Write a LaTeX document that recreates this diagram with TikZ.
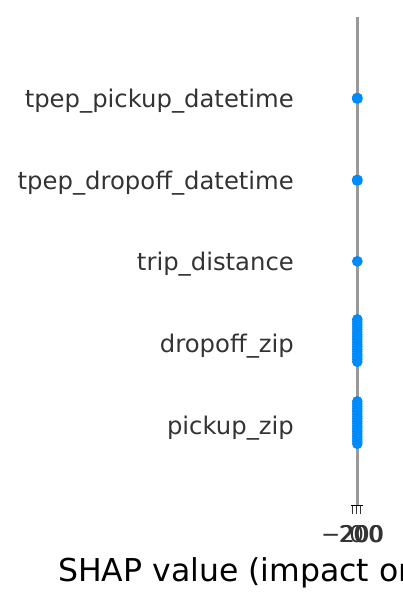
\documentclass[tikz,border=0pt]{standalone}
\usepackage{fontspec}
\setmainfont{DejaVu Sans}
\definecolor{shapblue}{HTML}{008BFB}
\definecolor{axisgray}{HTML}{999999}
\definecolor{txtgray}{HTML}{333333}
\tikzset{
  featlabel/.style={anchor=mid east, inner sep=0pt, text=txtgray, font=\fontsize{24.3}{28}\selectfont},
  ticklabel/.style={anchor=base, inner sep=0pt, text=txtgray, font=\fontsize{23}{27}\selectfont},
  xlab/.style={anchor=base west, inner sep=0pt, text=black, font=\fontsize{31.5}{35}\selectfont},
  dot/.style={fill=shapblue, draw=none},
  zeroline/.style={draw=axisgray, line width=3pt},
  spine/.style={draw=black, line width=1.2pt},
  tickmark/.style={draw=txtgray, line width=0.9pt}
}
\begin{document}
\begin{tikzpicture}[x=1pt,y=-1pt]
\useasboundingbox (0,0) rectangle (403,605);
% zero line
\coordinate (ztop) at (357.3,17);
\coordinate (zbot) at (357.3,505);
\draw[zeroline] (ztop) -- (zbot);
% feature labels
\node[featlabel] (f1) at (294,104.5) {tpep\_pickup\_datetime};
\node[featlabel] (f2) at (294,186.5) {tpep\_dropoff\_datetime};
\node[featlabel] (f3) at (294,268) {trip\_distance};
\node[featlabel] (f4) at (294,350) {dropoff\_zip};
\node[featlabel] (f5) at (294,432) {pickup\_zip};
% dots
\foreach \dx/\dy in {-0.8/-0.8,0.8/-0.8,-0.8/0.8,0.8/0.8}{
  \fill[dot] (357.3+\dx,98.3+\dy) circle (4.6);
  \fill[dot] (357.3+\dx,180.2+\dy) circle (4.6);
}
\fill[dot] (357.3,261.3) circle (5.4);
\foreach \k in {0,...,17}{
  \fill[dot] (357.3,319.3+\k*2.5) circle (5.3);
  \fill[dot] (357.3,401.3+\k*2.5) circle (5.3);
}
% bottom spine and ticks
\coordinate (sl) at (351,505.5);
\coordinate (sr) at (363,505.5);
\draw[spine] (sl) -- (sr);
\foreach \tx/\nm in {352.7/a,356.7/b,360.7/c}{
  \coordinate (t\nm) at (\tx,505.5);
  \coordinate (u\nm) at (\tx,514);
  \draw[tickmark] (t\nm) -- (u\nm);
}
\node[ticklabel] (l1) at (352.7,542) {−200};
\node[ticklabel] (l2) at (356.7,542) {0};
\node[ticklabel] (l3) at (360.7,542) {200};
% x label
\node[xlab] (xl) at (58,581) {SHAP value (impact on model output)};
\end{tikzpicture}
\end{document}
